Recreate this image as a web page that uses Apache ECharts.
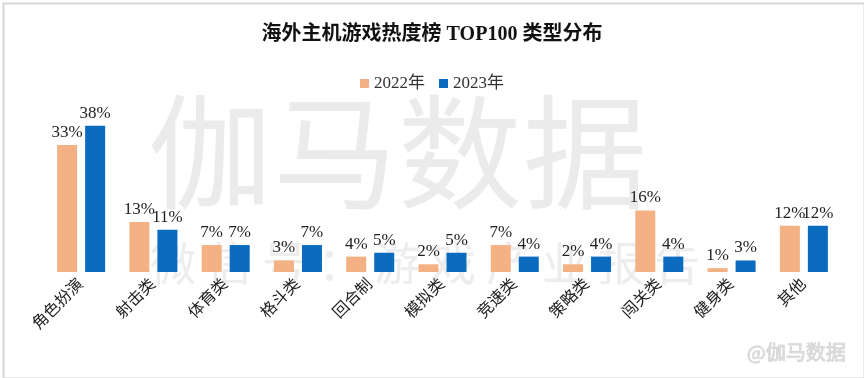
<!DOCTYPE html>
<html><head><meta charset="utf-8">
<script src="https://cdn.jsdelivr.net/npm/echarts@6/dist/echarts.min.js"></script>
<style>html,body{margin:0;padding:0;background:#fff}#c{width:864px;height:378px}</style>
</head><body><div id="c"></div>
<script>
var categories = ['角色扮演','射击类','体育类','格斗类','回合制','模拟类','竞速类','策略类','闯关类','健身类','其他'];
var values2022 = [33,13,7,3,4,2,7,2,16,1,12];
var values2023 = [38,11,7,7,5,5,4,4,4,3,12];
var seriesNames = ['2022年','2023年'];
var FONT = '"Liberation Serif","Noto Sans CJK SC",serif';
var WM = '"Noto Sans CJK SC",sans-serif';
var graphics = [
  {type:'rect',left:1,top:1,shape:{width:861,height:375},style:{fill:'none',stroke:'#d6d6d6',lineWidth:2},z:-10},
  {type:'text',right:18,top:342,z:-5,style:{text:'@伽马数据',fontSize:20,fontFamily:WM,fill:'#dcdcdc',stroke:'#c4c4c4',lineWidth:0.6}}
];
var bigChars = '伽马数据'.split('');
bigChars.forEach(function(ch,i){
  graphics.push({type:'text',left:148+i*125,top:90,z:-5,style:{text:ch,fontSize:124,fontFamily:WM,fill:'#ebebeb'}});
});
var smallChars = '微信号：游戏产业报告'.split('');
smallChars.forEach(function(ch,i){
  graphics.push({type:'text',left:150+i*56,top:240,z:-5,style:{text:ch,fontSize:46,fontFamily:WM,fill:'#ededed'}});
});
var chart = echarts.init(document.getElementById('c'));
chart.setOption({
  backgroundColor:'#fff',
  title:{text:'海外主机游戏热度榜 TOP100 类型分布',left:'center',top:20,
    textStyle:{fontFamily:FONT,fontSize:20,fontWeight:'bold',color:'#111'}},
  legend:{top:70,left:'center',itemWidth:9,itemHeight:9,itemGap:14,icon:'rect',
    textStyle:{fontFamily:FONT,fontSize:17,color:'#333'},data:seriesNames},
  graphic:graphics,
  grid:{left:45,right:24,top:118,bottom:106,containLabel:false},
  xAxis:{type:'category',data:categories,axisLine:{show:false},axisTick:{show:false},
    axisLabel:{rotate:45,interval:0,margin:10,fontFamily:FONT,fontSize:16,color:'#222'}},
  yAxis:{type:'value',min:0,max:40,show:false,splitLine:{show:false}},
  series:[
    {name:seriesNames[0],type:'bar',data:values2022,barWidth:20,barGap:'40%',itemStyle:{color:'#F4B183'},
      label:{show:true,position:'top',distance:4,formatter:'{c}%',fontFamily:FONT,fontSize:17,color:'#222'}},
    {name:seriesNames[1],type:'bar',data:values2023,barWidth:20,itemStyle:{color:'#0A6BBF'},
      label:{show:true,position:'top',distance:4,formatter:'{c}%',fontFamily:FONT,fontSize:17,color:'#222'}}
  ]
});
</script></body></html>
